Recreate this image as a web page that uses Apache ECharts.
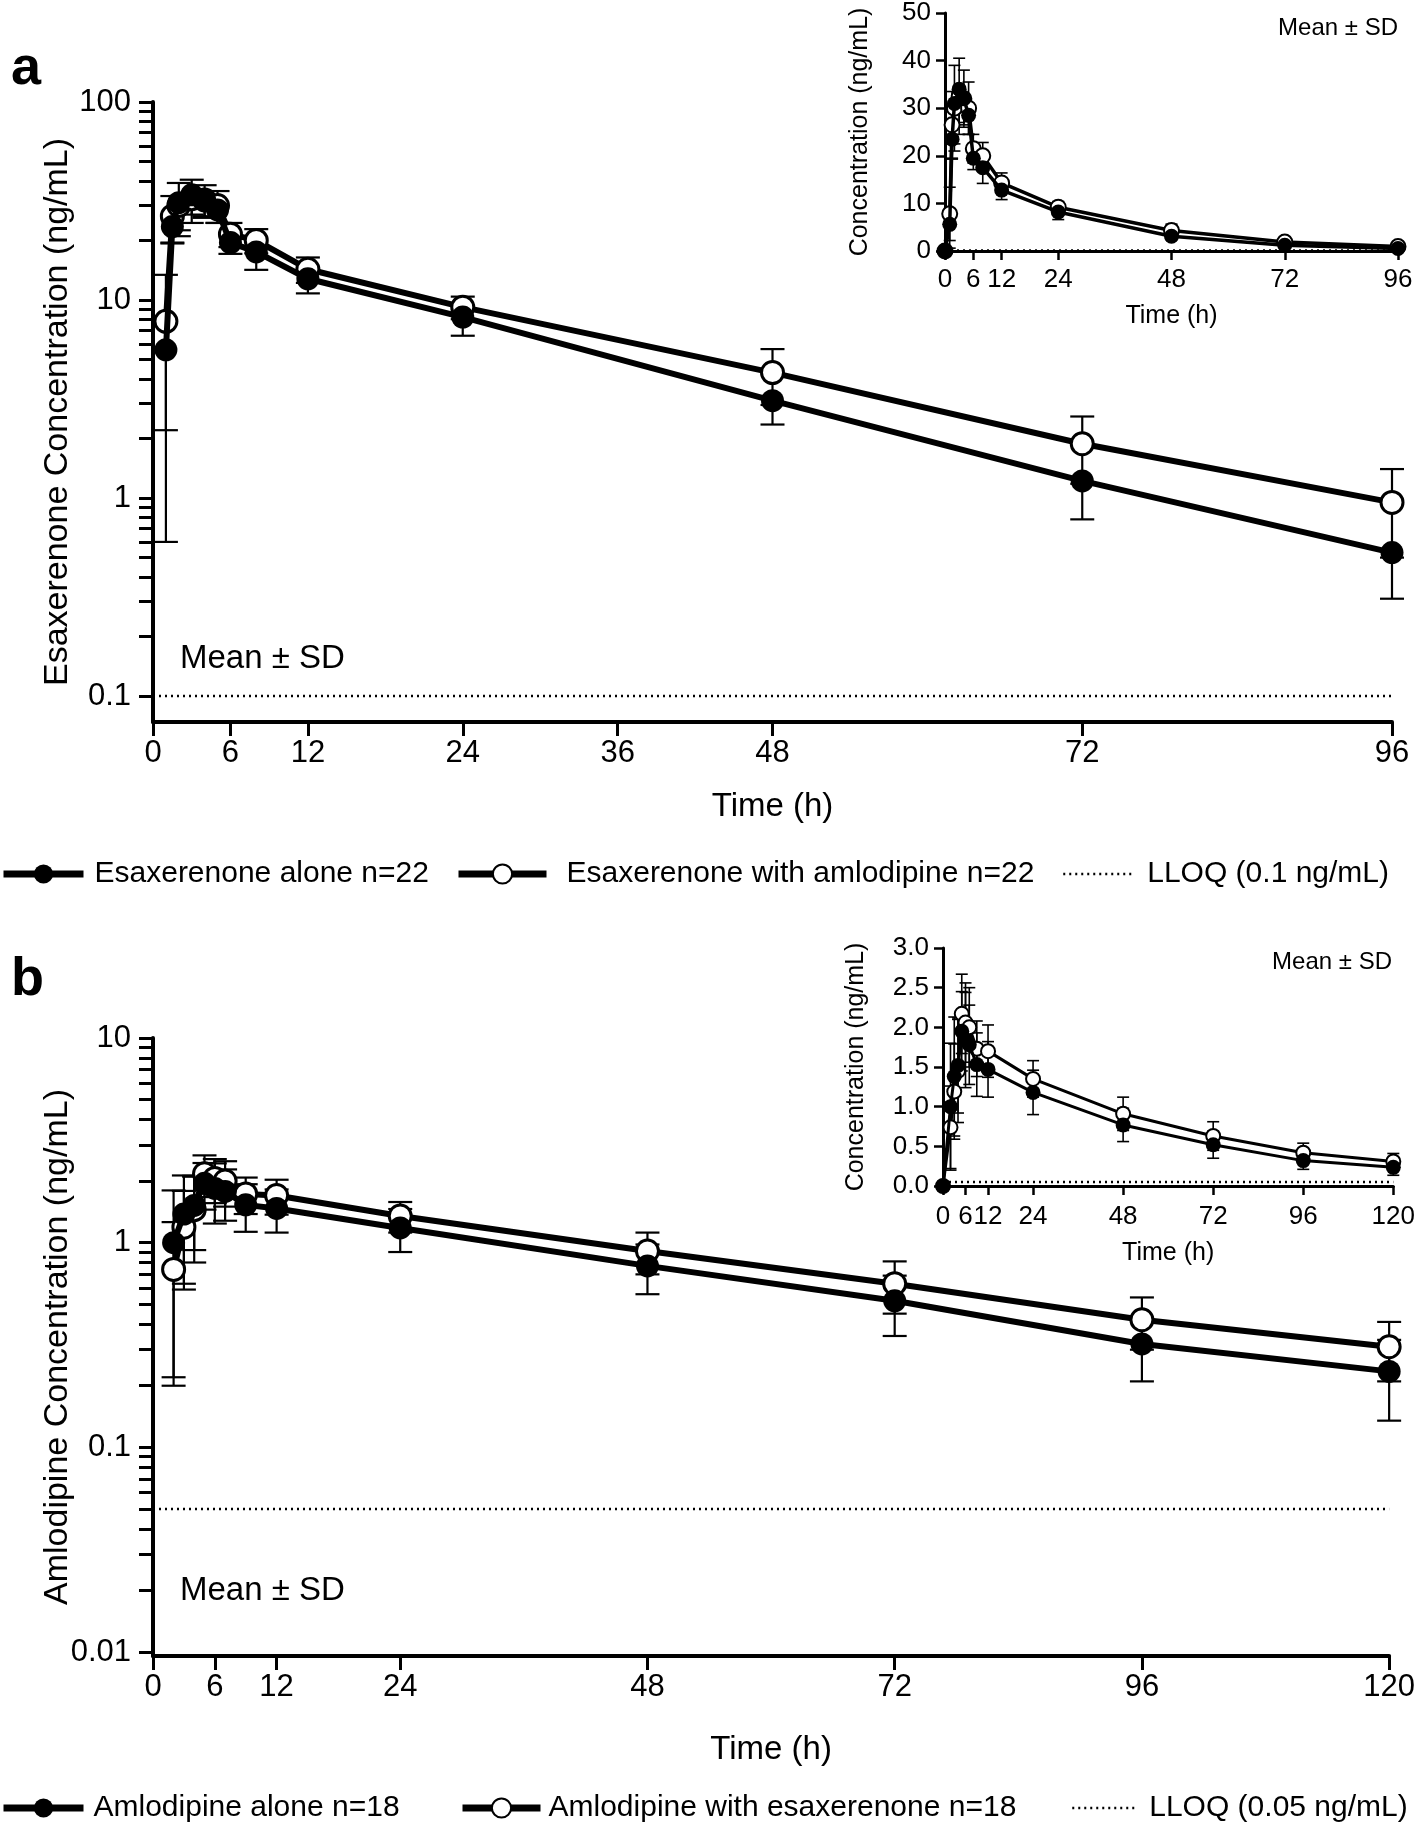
<!DOCTYPE html>
<html><head><meta charset="utf-8">
<script src="https://cdn.jsdelivr.net/npm/echarts@6/dist/echarts.min.js"></script>
<style>html,body{margin:0;padding:0;background:#fff}#c{width:1418px;height:1824px}</style>
</head><body><div id="c"></div>
<script>
// ---------------- DATA ----------------
// Panel a: esaxerenone (ng/mL), mean and SD
const esaTimes      = [1, 1.5, 2, 3, 4, 5, 6, 8, 12, 24, 48, 72, 96];
const esaAloneMean  = [5.6, 23.5, 31, 34, 32, 28.5, 19.5, 17.5, 12.8, 8.2, 3.1, 1.22, 0.53];
const esaAloneSD    = [5.0, 4.2, 8.5, 7, 5.5, 4, 2.4, 3.3, 2.0, 1.6, 0.75, 0.44, 0.22];
const esaWithMean   = [7.8, 26.5, 30, 32.5, 32, 30, 21.5, 20, 14.3, 9.2, 4.3, 1.88, 0.95];
const esaWithSD     = [5.6, 7, 9, 8, 6, 5.5, 3, 2.8, 2.1, 1.2, 1.35, 0.7, 0.45];
const esaLLOQ       = 0.1;
// Panel b: amlodipine (ng/mL), mean and SD
const amlTimes      = [2, 3, 4, 5, 6, 7, 9, 12, 24, 48, 72, 96, 120];
const amlAloneMean  = [1.0, 1.38, 1.52, 1.95, 1.84, 1.78, 1.53, 1.47, 1.18, 0.77, 0.52, 0.32, 0.235];
const amlAloneSD    = [0.8, 0.75, 0.6, 0.5, 0.6, 0.5, 0.4, 0.35, 0.28, 0.21, 0.17, 0.11, 0.1];
const amlWithMean   = [0.74, 1.19, 1.45, 2.17, 2.06, 2.0, 1.73, 1.7, 1.35, 0.91, 0.63, 0.42, 0.31];
const amlWithSD     = [0.52, 0.6, 0.65, 0.5, 0.5, 0.5, 0.35, 0.33, 0.23, 0.21, 0.18, 0.12, 0.1];
const amlLLOQ       = 0.05;
const predoseTime = 0, predoseConc = 0;   // shown only on the linear insets
// Names / tick labels
const nameEsaAlone = 'Esaxerenone alone n=22';
const nameEsaWith  = 'Esaxerenone with amlodipine n=22';
const nameEsaLLOQ  = 'LLOQ (0.1 ng/mL)';
const nameAmlAlone = 'Amlodipine alone n=18';
const nameAmlWith  = 'Amlodipine with esaxerenone n=18';
const nameAmlLLOQ  = 'LLOQ (0.05 ng/mL)';
const xTicksA      = [0, 6, 12, 24, 36, 48, 72, 96];
const xTicksAInset = [0, 6, 12, 24, 48, 72, 96];
const xTicksB      = [0, 6, 12, 24, 48, 72, 96, 120];
const yLabelsA     = [0.1, 1, 10, 100];
const yLabelsB     = [0.01, 0.1, 1, 10];

// ---------------- HELPERS ----------------
const SANS = '"Liberation Sans", Arial, Helvetica, sans-serif';
function logMinorTicks(lo, hi) {
  const out = [];
  for (let e = lo; e < hi; e++) for (let k = 1; k < 10; k++) out.push(+(k * Math.pow(10, e)).toPrecision(6));
  out.push(Math.pow(10, hi));
  return out;
}
function pairs(t, v) { return t.map((x, i) => [x, v[i]]); }
function fmt(v) { return String(+(+v).toPrecision(6)); }

// dir: 'both' | 'below'
function errSeries(xi, yi, times, mean, sd, cap, lw, z, dir) {
  return {
    type: 'custom', xAxisIndex: xi, yAxisIndex: yi, silent: true, z: z,
    data: times.map((t, i) => [t, mean[i], sd[i]]),
    encode: { x: 0, y: 1 },
    renderItem: function (params, api) {
      const t = api.value(0), m = api.value(1), s = api.value(2);
      const c = api.coord([t, m]);
      const hi = dir === 'below' ? c : api.coord([t, m + s]);
      const lo = (m - s) > 0 ? api.coord([t, m - s]) : c;
      const st = { stroke: '#000', lineWidth: lw, fill: null };
      const ch = [{ type: 'line', shape: { x1: c[0], y1: hi[1], x2: c[0], y2: lo[1] }, style: st }];
      if (dir !== 'below') ch.push({ type: 'line', shape: { x1: c[0] - cap, y1: hi[1], x2: c[0] + cap, y2: hi[1] }, style: st });
      if ((m - s) > 0) ch.push({ type: 'line', shape: { x1: c[0] - cap, y1: lo[1], x2: c[0] + cap, y2: lo[1] }, style: st });
      return { type: 'group', children: ch };
    }
  };
}
function lineSeries(name, xi, yi, data, filled, size, lw, bw, z) {
  return {
    type: 'line', name: name, xAxisIndex: xi, yAxisIndex: yi, data: data, z: z,
    symbol: 'circle', symbolSize: size, showAllSymbol: true,
    lineStyle: { color: '#000', width: lw },
    itemStyle: { color: filled ? '#000' : '#fff', borderColor: '#000', borderWidth: filled ? 0 : bw },
    emphasis: { disabled: true }
  };
}
function lloqSeries(name, xi, yi, x0, x1, v, lw) {
  return {
    type: 'line', name: name, xAxisIndex: xi, yAxisIndex: yi, symbol: 'none', z: 1,
    data: [[x0, v], [x1, v]],
    itemStyle: { color: '#000' },
    lineStyle: { color: '#000', width: lw, type: [2, 4] },
    emphasis: { disabled: true }
  };
}
function xAx(grid, max, ticks, o) {
  return {
    type: 'value', gridIndex: grid, min: 0, max: max,
    name: 'Time (h)', nameLocation: 'middle', nameGap: o.nameGap, nameMoveOverlap: false,
    nameTextStyle: { fontFamily: SANS, fontSize: o.nameSize, color: '#000' },
    axisLine: { onZero: false, lineStyle: { color: '#000', width: o.lw } },
    axisTick: { customValues: ticks, length: o.tl, lineStyle: { color: '#000', width: o.tw } },
    axisLabel: { customValues: ticks, margin: o.lm, fontFamily: SANS, fontSize: o.ls, color: '#000' },
    splitLine: { show: false }
  };
}

// ---------------- LAYOUT ----------------
const G = {
  a:  { left: 153, top: 102, width: 1239, height: 620 },
  ai: { left: 945, top: 12, width: 453, height: 239 },
  b:  { left: 153, top: 1038, width: 1238, height: 618 },
  bi: { left: 943, top: 948, width: 453, height: 238 }
};
// main log axes: 0.1 at y=696 (decade 198 px), axis line at 722
const yMinA = 0.1 * Math.pow(10, -(722 - 696) / 198);
const yMinB = 0.01 * Math.pow(10, -(1656 - 1652) / 204.6);

const chart = echarts.init(document.getElementById('c'), null, { renderer: 'canvas' });
const mainX = { nameSize: 33, lw: 4, tl: 14, tw: 3, lm: 16, ls: 31 };
const insX  = { nameSize: 25, lw: 3, tl: 9, tw: 2.5, ls: 26 };

function legendItem(left, top, name, iw, pad, lloq) {
  return {
    left: left, top: top, data: [name], orient: 'horizontal', padding: 0,
    itemWidth: iw, itemHeight: 24, selectedMode: false,
    itemStyle: lloq ? { opacity: 0 } : {},
    lineStyle: { width: lloq ? 2.5 : 7 },
    textStyle: { fontFamily: SANS, fontSize: 30, color: '#000', padding: [0, 0, 0, pad] }
  };
}

const option = {
  animation: false,
  backgroundColor: '#fff',
  grid: [G.a, G.ai, G.b, G.bi],
  xAxis: [
    xAx(0, 96, xTicksA, Object.assign({ nameGap: 68 }, mainX)),
    xAx(1, 96, xTicksAInset, Object.assign({ nameGap: 53, lm: 16 }, insX)),
    xAx(2, 120, xTicksB, Object.assign({ nameGap: 77 }, mainX)),
    xAx(3, 120, xTicksB, Object.assign({ nameGap: 55, lm: 18 }, insX))
  ],
  yAxis: [
    {
      type: 'log', logBase: 10, gridIndex: 0, min: yMinA, max: 100,
      name: 'Esaxerenone Concentration (ng/mL)', nameLocation: 'middle', nameGap: 78, nameMoveOverlap: false,
      nameTextStyle: { fontFamily: SANS, fontSize: 34, color: '#000' },
      axisLine: { lineStyle: { color: '#000', width: 4 } },
      axisTick: { customValues: logMinorTicks(-1, 2), length: 14, lineStyle: { color: '#000', width: 3 } },
      axisLabel: { customValues: yLabelsA, formatter: fmt, margin: 22, fontFamily: SANS, fontSize: 31, color: '#000' },
      splitLine: { show: false }
    },
    {
      type: 'value', gridIndex: 1, min: 0, max: 50, interval: 10,
      name: 'Concentration (ng/mL)', nameLocation: 'middle', nameGap: 72, nameMoveOverlap: false,
      nameTextStyle: { fontFamily: SANS, fontSize: 25, color: '#000' },
      axisLine: { lineStyle: { color: '#000', width: 3 } },
      axisTick: { length: 9, lineStyle: { color: '#000', width: 2.5 } },
      axisLabel: { margin: 14, fontFamily: SANS, fontSize: 26, color: '#000' },
      splitLine: { show: false }
    },
    {
      type: 'log', logBase: 10, gridIndex: 2, min: yMinB, max: 10,
      name: 'Amlodipine Concentration (ng/mL)', nameLocation: 'middle', nameGap: 78, nameMoveOverlap: false,
      nameTextStyle: { fontFamily: SANS, fontSize: 34, color: '#000' },
      axisLine: { lineStyle: { color: '#000', width: 4 } },
      axisTick: { customValues: logMinorTicks(-2, 1), length: 14, lineStyle: { color: '#000', width: 3 } },
      axisLabel: { customValues: yLabelsB, formatter: fmt, margin: 22, fontFamily: SANS, fontSize: 31, color: '#000' },
      splitLine: { show: false }
    },
    {
      type: 'value', gridIndex: 3, min: 0, max: 3, interval: 0.5,
      name: 'Concentration (ng/mL)', nameLocation: 'middle', nameGap: 74, nameMoveOverlap: false,
      nameTextStyle: { fontFamily: SANS, fontSize: 25, color: '#000' },
      axisLine: { lineStyle: { color: '#000', width: 3 } },
      axisTick: { length: 9, lineStyle: { color: '#000', width: 2.5 } },
      axisLabel: { margin: 14, fontFamily: SANS, fontSize: 26, color: '#000', formatter: v => (+v).toFixed(1) },
      splitLine: { show: false }
    }
  ],
  legend: [
    legendItem(0, 859, nameEsaAlone, 80, 6, false),
    legendItem(455, 859, nameEsaWith, 88, 15, false),
    legendItem(1062, 859, nameEsaLLOQ, 70, 9, true),
    legendItem(0, 1793, nameAmlAlone, 80, 5, false),
    legendItem(459, 1793, nameAmlWith, 78, 3, false),
    legendItem(1071, 1793, nameAmlLLOQ, 63, 9, true)
  ],
  graphic: [
    { type: 'text', left: 11, top: 42, style: { text: 'a', font: 'bold 54px ' + SANS, fill: '#000' } },
    { type: 'text', left: 11, top: 953, style: { text: 'b', font: 'bold 54px ' + SANS, fill: '#000' } },
    { type: 'text', left: 180, top: 642, style: { text: 'Mean ± SD', font: '33px ' + SANS, fill: '#000' } },
    { type: 'text', left: 180, top: 1574, style: { text: 'Mean ± SD', font: '33px ' + SANS, fill: '#000' } },
    { type: 'text', right: 20, top: 16, style: { text: 'Mean ± SD', font: '24px ' + SANS, fill: '#000' } },
    { type: 'text', right: 26, top: 950, style: { text: 'Mean ± SD', font: '24px ' + SANS, fill: '#000' } }
  ],
  series: [
    // Panel a main
    lloqSeries(nameEsaLLOQ, 0, 0, 0, 96, esaLLOQ, 2.5),
    errSeries(0, 0, esaTimes, esaWithMean, esaWithSD, 12, 2.2, 2, 'both'),
    errSeries(0, 0, esaTimes, esaAloneMean, esaAloneSD, 12, 2.2, 2, 'below'),
    lineSeries(nameEsaWith, 0, 0, pairs(esaTimes, esaWithMean), false, 22, 6, 3, 3),
    lineSeries(nameEsaAlone, 0, 0, pairs(esaTimes, esaAloneMean), true, 23, 6, 0, 4),
    // Panel a inset
    lloqSeries(nameEsaLLOQ, 1, 1, 0, 96, esaLLOQ, 2.5),
    errSeries(1, 1, esaTimes, esaWithMean, esaWithSD, 6, 1.6, 2, 'both'),
    errSeries(1, 1, esaTimes, esaAloneMean, esaAloneSD, 6, 1.6, 2, 'below'),
    lineSeries(nameEsaWith, 1, 1, [[predoseTime, predoseConc]].concat(pairs(esaTimes, esaWithMean)), false, 15, 3.5, 2, 3),
    lineSeries(nameEsaAlone, 1, 1, [[predoseTime, predoseConc]].concat(pairs(esaTimes, esaAloneMean)), true, 15, 3.5, 0, 4),
    // Panel b main
    lloqSeries(nameAmlLLOQ, 2, 2, 0, 120, amlLLOQ, 2.5),
    errSeries(2, 2, amlTimes, amlWithMean, amlWithSD, 12, 2.2, 2, 'both'),
    errSeries(2, 2, amlTimes, amlAloneMean, amlAloneSD, 12, 2.2, 2, 'both'),
    lineSeries(nameAmlWith, 2, 2, pairs(amlTimes, amlWithMean), false, 22, 6, 3, 3),
    lineSeries(nameAmlAlone, 2, 2, pairs(amlTimes, amlAloneMean), true, 23, 6, 0, 4),
    // Panel b inset
    lloqSeries(nameAmlLLOQ, 3, 3, 0, 120, amlLLOQ, 2.5),
    errSeries(3, 3, amlTimes, amlWithMean, amlWithSD, 6, 1.6, 2, 'both'),
    errSeries(3, 3, amlTimes, amlAloneMean, amlAloneSD, 6, 1.6, 2, 'both'),
    lineSeries(nameAmlWith, 3, 3, [[predoseTime, predoseConc]].concat(pairs(amlTimes, amlWithMean)), false, 14, 3, 2, 3),
    lineSeries(nameAmlAlone, 3, 3, [[predoseTime, predoseConc]].concat(pairs(amlTimes, amlAloneMean)), true, 15, 3, 0, 4)
  ]
};
chart.setOption(option);
</script></body></html>
